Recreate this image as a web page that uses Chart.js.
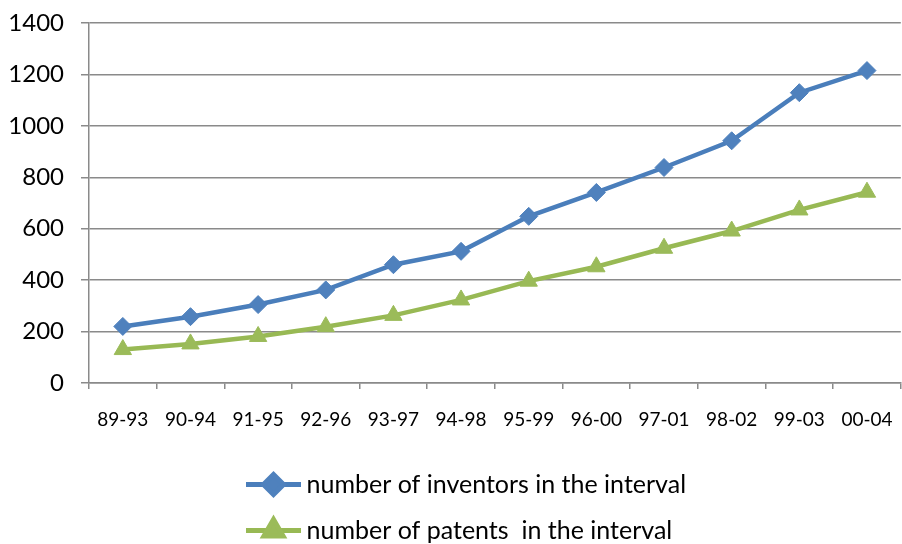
<!DOCTYPE html>
<html>
<head>
<meta charset="utf-8">
<title>Inventors and patents per interval</title>
<script src="https://cdn.jsdelivr.net/npm/chart.js@4/dist/chart.umd.min.js"></script>
<style>
  html, body { margin: 0; padding: 0; background: #ffffff; overflow: hidden; }
  #wrap { width: 912px; height: 553px; }
</style>
</head>
<body>
<div id="wrap"><canvas id="chart" width="912" height="553"></canvas></div>
<script>
// Five-year moving intervals
const categories = ['89-93', '90-94', '91-95', '92-96', '93-97', '94-98',
                    '95-99', '96-00', '97-01', '98-02', '99-03', '00-04'];

// Series values per interval
const inventors = [220, 258, 305, 362, 460, 512, 648, 741, 838, 942, 1129, 1215];
const patents   = [130, 152, 181, 219, 263, 323, 396, 452, 524, 591, 673, 742];

// Series names shown in the legend
const seriesNames = ['number of inventors in the interval', 'number of patents  in the interval'];

// Value axis range
const yMin = 0, yMax = 1400, yStep = 200;

const FONT = 'Lato, "Open Sans", "DejaVu Sans", sans-serif';
const GRID = '#8a8a8a';
const BLUE_LINE = '#4A7EBB', BLUE_MARK = '#4F81BD';
const GREEN_LINE = '#98B954', GREEN_MARK = '#9BBB59';
const LEGEND_PADDING = 21;

// Both legend rows start from the same left edge
const legendOffset = {
  id: 'legendOffset',
  afterLayout(chart) {
    if (chart.legend) chart.legend.left = 246 - LEGEND_PADDING;
  }
};

// Legend entries: line segment with the series marker in its middle
const legendSymbols = {
  id: 'legendSymbols',
  afterDraw(chart) {
    const legend = chart.legend;
    if (!legend || !legend.legendHitBoxes) return;
    const ctx = chart.ctx;
    legend.legendHitBoxes.forEach((hb, i) => {
      const ds = chart.data.datasets[i];
      const y = hb.top + hb.height / 2;
      const x0 = hb.left, x1 = hb.left + 55;
      ctx.save();
      ctx.strokeStyle = ds.borderColor;
      ctx.lineWidth = 5;
      ctx.lineCap = 'butt';
      ctx.beginPath();
      ctx.moveTo(x0, y);
      ctx.lineTo(x1, y);
      ctx.stroke();
      ctx.fillStyle = ds.pointBackgroundColor;
      ctx.strokeStyle = ds.pointBorderColor;
      Chart.helpers.drawPoint(ctx, {
        pointStyle: ds.pointStyle,
        radius: ds.pointRadius + 1,
        rotation: 0,
        borderWidth: 1
      }, (x0 + x1) / 2, y);
      ctx.restore();
    });
  }
};

new Chart(document.getElementById('chart'), {
  type: 'line',
  data: {
    labels: categories,
    datasets: [
      {
        label: seriesNames[0],
        data: inventors,
        borderColor: BLUE_LINE,
        borderWidth: 4.5,
        pointStyle: 'rectRot',
        pointRadius: 9,
        pointBorderWidth: 1,
        pointBackgroundColor: BLUE_MARK,
        pointBorderColor: BLUE_MARK,
        tension: 0,
        fill: false
      },
      {
        label: seriesNames[1],
        data: patents,
        borderColor: GREEN_LINE,
        borderWidth: 4.5,
        pointStyle: 'triangle',
        pointRadius: 10,
        pointBorderWidth: 1,
        pointBackgroundColor: GREEN_MARK,
        pointBorderColor: GREEN_MARK,
        tension: 0,
        fill: false
      }
    ]
  },
  options: {
    responsive: false,
    devicePixelRatio: 1,
    animation: false,
    layout: { padding: { left: 0, top: 23, right: 0, bottom: 0 } },
    plugins: {
      tooltip: { enabled: false },
      legend: {
        position: 'bottom',
        align: 'start',
        labels: {
          color: '#000000',
          font: { family: FONT, size: 25 },
          boxWidth: 48,
          boxHeight: 22,
          padding: LEGEND_PADDING,
          generateLabels(chart) {
            return chart.data.datasets.map((ds, i) => ({
              text: ds.label,
              fillStyle: 'rgba(0,0,0,0)',
              strokeStyle: 'rgba(0,0,0,0)',
              lineWidth: 0,
              hidden: false,
              datasetIndex: i,
              fontColor: '#000000'
            }));
          }
        }
      }
    },
    scales: {
      x: {
        type: 'category',
        offset: true,
        grid: {
          display: true,
          drawOnChartArea: false,
          drawTicks: true,
          tickLength: 6,
          offset: true,
          color: GRID,
          lineWidth: 1.5
        },
        border: { display: true, color: GRID, width: 1.5 },
        ticks: {
          color: '#000000',
          font: { family: FONT, size: 19 },
          padding: 19,
          maxRotation: 0,
          autoSkip: false
        },
        afterFit(scale) { scale.height = 68; }
      },
      y: {
        min: yMin,
        max: yMax,
        grid: {
          color: GRID,
          lineWidth: 1.5,
          tickLength: 8,
          drawTicks: true
        },
        border: { display: true, color: GRID, width: 1.5 },
        ticks: {
          stepSize: yStep,
          color: '#000000',
          font: { family: FONT, size: 24 },
          padding: 17,
          callback: (v) => String(v)
        },
        afterFit(scale) {
          scale.width = 89;
          scale.paddingTop = 0;
          scale.paddingBottom = 0;
        }
      }
    }
  },
  plugins: [legendOffset, legendSymbols]
});
</script>
</body>
</html>
